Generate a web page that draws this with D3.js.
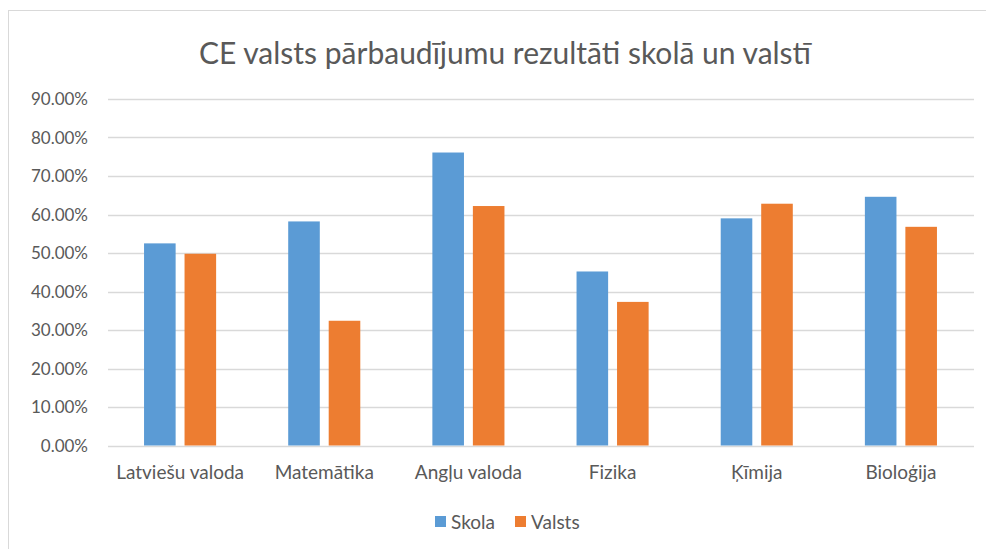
<!DOCTYPE html>
<html>
<head>
<meta charset="utf-8">
<script src="https://cdn.jsdelivr.net/npm/d3@7"></script>
<style>
  body { margin: 0; background: #fff; }
  text { font-family: Lato, "Open Sans", sans-serif; fill: #595959; }
</style>
</head>
<body>
<div id="chart"></div>
<script>
var width = 986,
    height = 549;

var title = "CE valsts pārbaudījumu rezultāti skolā un valstī";
var subjects = ["Latviešu valoda", "Matemātika", "Angļu valoda", "Fizika", "Ķīmija", "Bioloģija"];
var seriesNames = ["Skola", "Valsts"];
var skola = [0.525, 0.582, 0.761, 0.452, 0.590, 0.646];
var valsts = [0.498, 0.324, 0.622, 0.373, 0.628, 0.568];
var yTicks = [0, 0.1, 0.2, 0.3, 0.4, 0.5, 0.6, 0.7, 0.8, 0.9];

var colorPair = ["#5b9bd5", "#ed7d31"];
var margin = {top: 99, right: 12, bottom: 104, left: 108};

var svg = d3.select("#chart").append("svg")
  .attr("width", width)
  .attr("height", height);

// chart frame (only top/left edges show in the crop)
svg.append("rect")
  .attr("x", 8.5)
  .attr("y", 10.5)
  .attr("width", 1000)
  .attr("height", 600)
  .attr("fill", "#fff")
  .attr("stroke", "#d9d9d9");

svg.append("text")
  .attr("x", 505)
  .attr("y", 64)
  .attr("text-anchor", "middle")
  .style("font-size", "30px")
  .text(title);

var x0 = d3.scaleBand()
  .domain(subjects)
  .range([margin.left, width - margin.right - 1])
  .paddingInner(0.5)
  .paddingOuter(0.25);

var x1 = d3.scaleBand()
  .domain(seriesNames)
  .range([0, x0.bandwidth()])
  .paddingInner(0.22);

var y = d3.scaleLinear()
  .domain([0, 0.9])
  .range([445.5, margin.top]);

// gridlines
svg.append("g")
  .selectAll("line")
  .data(yTicks)
  .enter()
  .append("line")
  .attr("x1", margin.left)
  .attr("x2", width - margin.right)
  .attr("y1", function(d) { return Math.round(y(d)) + 0.5; })
  .attr("y2", function(d) { return Math.round(y(d)) + 0.5; })
  .attr("stroke", "#d9d9d9")
  .attr("stroke-width", 1.5);

// y labels
var yAxis = d3.axisLeft(y)
  .tickValues(yTicks)
  .tickFormat(d3.format(".2%"))
  .tickSize(0)
  .tickPadding(0);

var yg = svg.append("g")
  .attr("transform", "translate(88,0)")
  .call(yAxis);
yg.select(".domain").remove();
yg.selectAll("text")
  .attr("fill", null)
  .style("font-size", "17px")
  .attr("dy", "0.35em");

// bars
var data = subjects.map(function(s, i) {
  return {subject: s, values: [skola[i], valsts[i]]};
});

var groups = svg.append("g")
  .selectAll("g")
  .data(data)
  .enter()
  .append("g")
  .attr("transform", function(d) { return "translate(" + x0(d.subject) + ",0)"; });

groups.selectAll("rect")
  .data(function(d) {
    return d.values.map(function(v, i) { return {name: seriesNames[i], value: v, i: i}; });
  })
  .enter()
  .append("rect")
  .attr("x", function(d) { return x1(d.name); })
  .attr("y", function(d) { return y(d.value); })
  .attr("width", x1.bandwidth())
  .attr("height", function(d) { return y(0) - y(d.value); })
  .attr("fill", function(d) { return colorPair[d.i]; });

// x labels
var xAxis = d3.axisBottom(x0).tickSize(0).tickPadding(0);
var xg = svg.append("g")
  .attr("transform", "translate(0,479)")
  .call(xAxis);
xg.select(".domain").remove();
xg.selectAll("text")
  .attr("fill", null)
  .style("font-size", "19px")
  .attr("dy", "0");

// legend
var legend = svg.append("g")
  .attr("transform", "translate(435,522)");

var legendX = [0, 80];
seriesNames.forEach(function(name, i) {
  var row = legend.append("g")
    .attr("transform", "translate(" + legendX[i] + ",0)");
  row.append("rect")
    .attr("x", 0)
    .attr("y", -6)
    .attr("width", 11)
    .attr("height", 11)
    .attr("fill", colorPair[i]);
  row.append("text")
    .attr("x", 16)
    .attr("y", 0)
    .attr("dy", "0.35em")
    .style("font-size", "19px")
    .text(name);
});
</script>
</body>
</html>
